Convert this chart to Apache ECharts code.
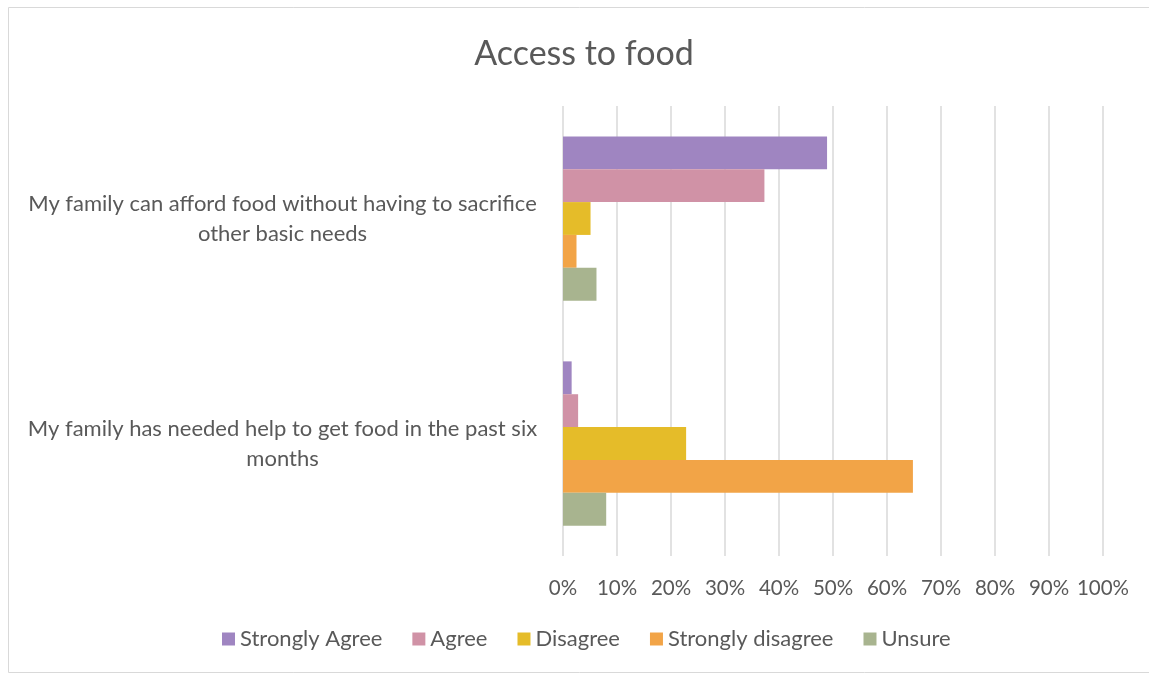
<!DOCTYPE html>
<html>
<head>
<meta charset="utf-8">
<script src="https://cdn.jsdelivr.net/npm/echarts@6/dist/echarts.min.js"></script>
<style>
  html, body { margin: 0; padding: 0; background: #fff; }
  #chart { width: 1149px; height: 675px; }
</style>
</head>
<body>
<div id="chart"></div>
<script>
// Survey statements (top to bottom)
const categories = [
  'My family can afford food without having to sacrifice\nother basic needs',
  'My family has needed help to get food in the past six\nmonths'
];
// Share of respondents per answer, in percent, per statement
const stronglyAgree    = [48.9, 1.6];
const agree            = [37.3, 2.8];
const disagree         = [5.1, 22.8];
const stronglyDisagree = [2.5, 64.8];
const unsure           = [6.2, 8.0];

const seriesNames  = ['Strongly Agree', 'Agree', 'Disagree', 'Strongly disagree', 'Unsure'];
const seriesValues = [stronglyAgree, agree, disagree, stronglyDisagree, unsure];
const seriesColors = ['#9F85C1', '#D092A6', '#E5BC29', '#F2A447', '#A8B48F'];

const FONT = 'Lato, "Open Sans", sans-serif';
const TEXT = '#595959';

const chart = echarts.init(document.getElementById('chart'));
chart.setOption({
  animation: false,
  textStyle: { fontFamily: FONT },
  title: {
    text: 'Access to food',
    left: 579, top: 32, textAlign: 'center',
    textStyle: { fontFamily: FONT, fontSize: 34, fontWeight: 'normal', color: TEXT }
  },
  graphic: [{
    type: 'rect',
    shape: { x: 8.5, y: 7.5, width: 1150, height: 665 },
    style: { fill: 'none', stroke: '#d9d9d9', lineWidth: 1 },
    silent: true
  }],
  legend: {
    bottom: 20, left: 217,
    itemWidth: 13, itemHeight: 13, itemGap: 30,
    icon: 'rect',
    textStyle: { fontFamily: FONT, fontSize: 22, color: TEXT, padding: [0, 0, 0, 0] },
    data: seriesNames
  },
  grid: { left: 563, right: 46, top: 106, bottom: 119, containLabel: false },
  xAxis: {
    type: 'value', min: 0, max: 100, interval: 10,
    axisLine: { show: false }, axisTick: { show: false },
    splitLine: { lineStyle: { color: '#d9d9d9', width: 1.5 } },
    axisLabel: { formatter: '{value}%', fontSize: 20.5, color: TEXT, margin: 22, fontFamily: FONT }
  },
  yAxis: {
    type: 'category', inverse: true, data: categories,
    axisLine: { show: false }, axisTick: { show: false },
    axisLabel: {
      margin: 23,
      formatter: v => v.split('\n').map(s => '{c|' + s + '}').join('\n'),
      rich: { c: { width: 515, align: 'center', fontSize: 22, lineHeight: 30, color: TEXT, fontFamily: FONT } }
    }
  },
  series: seriesNames.map((name, i) => ({
    name, type: 'bar', data: seriesValues[i],
    barGap: '0%', barCategoryGap: '27%',
    itemStyle: { color: seriesColors[i] }
  }))
});
</script>
</body>
</html>
